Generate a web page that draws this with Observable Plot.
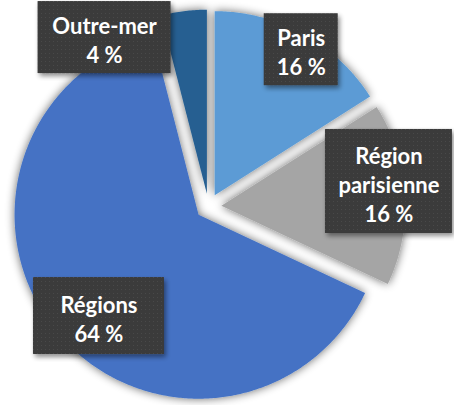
<!DOCTYPE html>
<html>
<head>
<meta charset="utf-8">
<script src="https://cdn.jsdelivr.net/npm/d3@7"></script>
<script src="https://cdn.jsdelivr.net/npm/@observablehq/plot@0.6"></script>
<style>
  html, body { margin: 0; padding: 0; background: #fff; }
  #chart { width: 454px; height: 405px; overflow: hidden; }
</style>
</head>
<body>
<div id="chart"></div>
<script>
// ---- data ----
const categories = ["Paris", "Région parisienne", "Régions", "Outre-mer"];
const shares = [16, 16, 64, 4];
const labelTexts = ["Paris", "Région\nparisienne", "Régions", "Outre-mer"];
const colors = ["#5B9BD5", "#A5A5A5", "#4472C4", "#255E91"];
// label anchor placement (degrees clockwise from 12 o'clock, radius in pie radii)
const labelAngle = [30.6, 82.1, 225.0, 328.4];
const labelRadius = [0.99, 0.99, 0.842, 1.078];
// label box sizes in pixels
const boxW = [74, 127, 131, 133];
const boxH = [72, 104, 77, 72];

// ---- layout ----
const W = 454, H = 405;
const R = 184, CX = 208, CY = 206;   // pie radius and centre in pixels
const explode = 0.07;                // slice offset in pie radii

const rows = categories.map((c, i) => ({category: c, share: shares[i], label: labelTexts[i], color: colors[i]}));
const arcs = d3.pie().sort(null).value(d => d.share)(rows);

// polygon points for each slice (unit circle, y up)
const slicePts = [];
for (const a of arcs) {
  const mid = (a.startAngle + a.endAngle) / 2;
  const ox = explode * Math.sin(mid), oy = explode * Math.cos(mid);
  slicePts.push({category: a.data.category, x: ox, y: oy});
  const n = Math.max(4, Math.ceil((a.endAngle - a.startAngle) / 0.01));
  for (let k = 0; k <= n; k++) {
    const t = a.startAngle + (a.endAngle - a.startAngle) * k / n;
    slicePts.push({category: a.data.category, x: ox + Math.sin(t), y: oy + Math.cos(t)});
  }
}

const labels = rows.map((d, i) => {
  const t = labelAngle[i] * Math.PI / 180;
  return {category: d.category, text: d.label + "\n" + d.share + "\u00a0%",
          x: labelRadius[i] * Math.sin(t), y: labelRadius[i] * Math.cos(t),
          w: boxW[i], h: boxH[i]};
});

const plot = Plot.plot({
  width: W, height: H,
  margin: 0,
  x: {domain: [-CX / R, (W - CX) / R], axis: null},
  y: {domain: [-(H - CY) / R, CY / R], axis: null},
  color: {domain: categories, range: colors},
  style: {background: "transparent", fontFamily: "Lato, 'Open Sans', sans-serif"},
  marks: [
    Plot.line(slicePts, {x: "x", y: "y", z: "category", fill: "category", stroke: "none", curve: "linear-closed"}),
    Plot.text(labels, {x: "x", y: "y", text: "text", fill: "white", fontWeight: 700, fontSize: 22,
                       lineHeight: 29 / 22, dy: 2, fontFamily: "Lato, 'Open Sans', sans-serif"})
  ]
});

document.getElementById("chart").appendChild(plot);

// ---- decorations: slice glow, textured label boxes ----
const svg = d3.select(plot);
const defs = svg.insert("defs", ":first-child");
const glow = defs.append("filter").attr("id", "glow")
  .attr("x", "-20%").attr("y", "-20%").attr("width", "140%").attr("height", "140%");
glow.append("feGaussianBlur").attr("in", "SourceAlpha").attr("stdDeviation", 5).attr("result", "b");
glow.append("feComponentTransfer").attr("in", "b").attr("result", "s")
  .append("feFuncA").attr("type", "linear").attr("slope", 0.6);
const gm = glow.append("feMerge");
gm.append("feMergeNode").attr("in", "s");
gm.append("feMergeNode").attr("in", "SourceGraphic");

const bshadow = defs.append("filter").attr("id", "bshadow")
  .attr("x", "-20%").attr("y", "-20%").attr("width", "140%").attr("height", "140%");
bshadow.append("feGaussianBlur").attr("in", "SourceAlpha").attr("stdDeviation", 2.5).attr("result", "b");
bshadow.append("feOffset").attr("in", "b").attr("dx", 2).attr("dy", 3).attr("result", "o");
bshadow.append("feComponentTransfer").attr("in", "o").attr("result", "s")
  .append("feFuncA").attr("type", "linear").attr("slope", 0.45);
const bm = bshadow.append("feMerge");
bm.append("feMergeNode").attr("in", "s");
bm.append("feMergeNode").attr("in", "SourceGraphic");

const pat = defs.append("pattern").attr("id", "dots").attr("patternUnits", "userSpaceOnUse")
  .attr("width", 4).attr("height", 4);
pat.append("rect").attr("width", 4).attr("height", 4).attr("fill", "#3a3a3a");
pat.append("rect").attr("x", 1).attr("y", 1).attr("width", 1).attr("height", 1).attr("fill", "#4a4a4a");

svg.select("g[aria-label='line']").attr("filter", "url(#glow)");

const xs = plot.scale("x"), ys = plot.scale("y");
const textGroup = svg.select("g[aria-label='text']");
const boxes = svg.insert("g", () => textGroup.node()).attr("aria-label", "label boxes");
labels.forEach(d => {
  const px = xs.apply(d.x), py = ys.apply(d.y);
  boxes.append("rect")
    .attr("x", px - d.w / 2).attr("y", py - d.h / 2)
    .attr("width", d.w).attr("height", d.h)
    .attr("fill", "url(#dots)").attr("filter", "url(#bshadow)");
});
</script>
</body>
</html>
